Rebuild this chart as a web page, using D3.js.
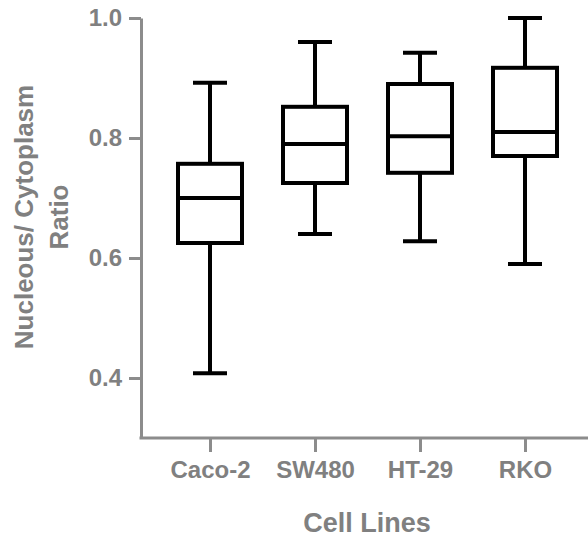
<!DOCTYPE html>
<html>
<head>
<meta charset="utf-8">
<script src="https://cdn.jsdelivr.net/npm/d3@7"></script>
<style>
  body { margin: 0; background: #fff; }
  text { font-family: "Liberation Sans", Arial, sans-serif; font-weight: bold; fill: #808080; }
  .axis path, .axis line { stroke: #8c8c8c; stroke-width: 3; }
</style>
</head>
<body>
<div id="chart"></div>
<script>
// cell lines and box stats
var cellLines = ["Caco-2", "SW480", "HT-29", "RKO"];
var whiskerMin = [0.408, 0.64, 0.628, 0.59];
var q1 = [0.625, 0.725, 0.742, 0.77];
var median = [0.70, 0.79, 0.803, 0.81];
var q3 = [0.757, 0.852, 0.89, 0.917];
var whiskerMax = [0.892, 0.96, 0.942, 1.0];
var yTicks = [0.4, 0.6, 0.8, 1.0];

var width = 588, height = 539;

var svg = d3.select("#chart")
    .append("svg")
    .attr("width", width)
    .attr("height", height);

var yScale = d3.scaleLinear()
    .domain([0.3, 1.0])
    .range([438, 18]);

var xScale = d3.scalePoint()
    .domain(cellLines)
    .range([210, 525]);

var axisX0 = 141;

// Y axis
var yAxis = d3.axisLeft(yScale)
    .tickValues(yTicks)
    .tickFormat(d3.format(".1f"))
    .tickSize(12)
    .tickSizeOuter(0)
    .tickPadding(7);

svg.append("g")
    .attr("class", "y axis")
    .attr("transform", "translate(" + axisX0 + ",0)")
    .call(yAxis)
    .selectAll("text")
    .style("font-size", "24px");

// X axis, line runs to the right edge
var xAxis = d3.axisBottom(xScale)
    .tickSize(14)
    .tickSizeOuter(0)
    .tickPadding(9);

var gx = svg.append("g")
    .attr("class", "x axis")
    .attr("transform", "translate(0," + yScale(0.3) + ")")
    .call(xAxis);

gx.select(".domain").attr("d", "M" + (axisX0 - 1.5) + ",0H" + width);
gx.selectAll("text").style("font-size", "24px");

// boxes
var data = cellLines.map(function(c, i) {
    return {name: c, min: whiskerMin[i], q1: q1[i], med: median[i], q3: q3[i], max: whiskerMax[i]};
});

var boxW = 64, capW = 34;

var boxes = svg.append("g")
    .selectAll("g")
    .data(data)
    .enter()
    .append("g")
    .attr("transform", function(d) { return "translate(" + xScale(d.name) + ",0)"; });

// whisker lines
boxes.append("line")
    .attr("x1", 0).attr("x2", 0)
    .attr("y1", function(d) { return yScale(d.max); })
    .attr("y2", function(d) { return yScale(d.q3); });

boxes.append("line")
    .attr("x1", 0).attr("x2", 0)
    .attr("y1", function(d) { return yScale(d.q1); })
    .attr("y2", function(d) { return yScale(d.min); });

// caps
boxes.append("line")
    .attr("x1", -capW / 2).attr("x2", capW / 2)
    .attr("y1", function(d) { return yScale(d.max); })
    .attr("y2", function(d) { return yScale(d.max); });

boxes.append("line")
    .attr("x1", -capW / 2).attr("x2", capW / 2)
    .attr("y1", function(d) { return yScale(d.min); })
    .attr("y2", function(d) { return yScale(d.min); });

boxes.append("rect")
    .attr("x", -boxW / 2)
    .attr("width", boxW)
    .attr("y", function(d) { return yScale(d.q3); })
    .attr("height", function(d) { return yScale(d.q1) - yScale(d.q3); })
    .attr("fill", "#fff");

boxes.append("line")
    .attr("x1", -boxW / 2).attr("x2", boxW / 2)
    .attr("y1", function(d) { return yScale(d.med); })
    .attr("y2", function(d) { return yScale(d.med); });

boxes.selectAll("line, rect")
    .attr("stroke", "#000")
    .attr("stroke-width", 4);

// axis titles
svg.append("text")
    .attr("x", 367)
    .attr("y", 532)
    .attr("text-anchor", "middle")
    .style("font-size", "27px")
    .text("Cell Lines");

var yTitle = svg.append("text")
    .attr("transform", "translate(0,217) rotate(-90)")
    .attr("text-anchor", "middle")
    .style("font-size", "26px");

yTitle.append("tspan").attr("x", 0).attr("y", 33).text("Nucleous/ Cytoplasm");
yTitle.append("tspan").attr("x", 0).attr("y", 68).text("Ratio");
</script>
</body>
</html>
